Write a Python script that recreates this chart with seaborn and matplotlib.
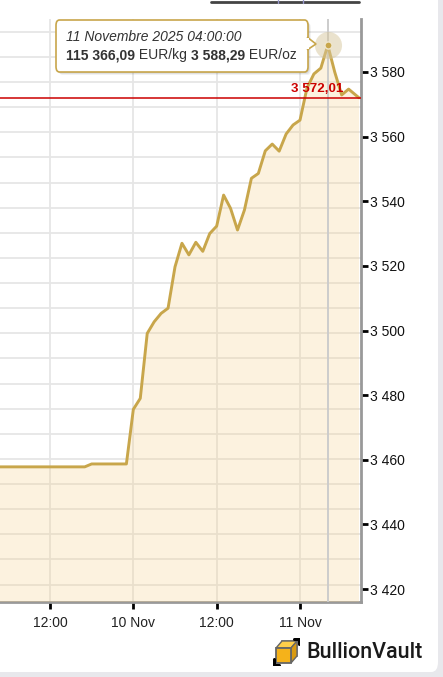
import pandas as pd
import numpy as np
import matplotlib
matplotlib.use("Agg")
import matplotlib.pyplot as plt
import matplotlib.dates as mdates
import matplotlib.ticker as mticker
from matplotlib.patches import FancyBboxPatch, Polygon, Rectangle
from matplotlib.lines import Line2D
import seaborn as sns

# Hourly gold price, EUR/oz
sun_times = pd.date_range("2025-11-09 04:00", "2025-11-09 23:00", freq="h")
sun_prices = [3457.8, 3457.8, 3457.8, 3457.8, 3457.8, 3457.8, 3457.8,
              3457.8, 3457.8, 3457.8, 3457.8, 3457.8, 3457.8, 3457.8,
              3458.7, 3458.7, 3458.7, 3458.7, 3458.7, 3458.7]
mon_times = pd.date_range("2025-11-10 00:00", "2025-11-10 23:00", freq="h")
mon_prices = [3475.6, 3479.0, 3499.1, 3502.7, 3505.3, 3506.9, 3519.7, 3527.0,
              3523.4, 3527.3, 3524.5, 3530.0, 3532.3, 3541.9, 3537.8, 3531.1,
              3537.3, 3547.1, 3548.6, 3555.6, 3557.7, 3555.5, 3560.8, 3563.6]
tue_times = pd.to_datetime(["2025-11-11 00:00", "2025-11-11 01:00", "2025-11-11 02:00",
                            "2025-11-11 03:00", "2025-11-11 04:00", "2025-11-11 05:00",
                            "2025-11-11 06:00", "2025-11-11 07:00", "2025-11-11 08:00",
                            "2025-11-11 08:30"])
tue_prices = [3565.1, 3575.0, 3579.4, 3581.2, 3588.29, 3580.0, 3572.9, 3574.7,
              3572.9, 3572.01]

last_price = 3572.01
hover_time = pd.Timestamp("2025-11-11 04:00")
hover_oz = 3588.29
hover_kg = 115366.09
hover_label = "11 Novembre 2025 04:00:00"
OZ_PER_KG = 32.1507

df = pd.DataFrame({
    "time": list(sun_times) + list(mon_times) + list(tue_times),
    "price": sun_prices + mon_prices + tue_prices,
})

W, H = 443, 677
LINE = "#C8A64B"
sns.set_style("white")
plt.rcParams["font.family"] = ["Liberation Sans", "DejaVu Sans"]

fig = plt.figure(figsize=(W / 100, H / 100), dpi=100)
fig.patch.set_facecolor("#E8E8EC")


def fx(x):
    return x / W


def fy(y):
    return 1 - y / H


def eur(v):
    return f"{v:,.2f}".replace(",", " ").replace(".", ",")


# white card behind the chart
fig.add_artist(FancyBboxPatch((fx(-20), fy(672)), fx(458), 1.1,
                              boxstyle="round,pad=0,rounding_size=0.015",
                              transform=fig.transFigure, facecolor="white",
                              edgecolor="none", zorder=0))

ax = fig.add_axes([0, fy(602), fx(361), fy(19) - fy(602)])
ax.set_facecolor("none")

sns.lineplot(data=df, x="time", y="price", ax=ax, color=LINE, linewidth=2.1, zorder=4)
ax.fill_between(df["time"], df["price"], 3300, color="#F5CD82", alpha=0.25,
                linewidth=0, zorder=3)

ax.set_xlim(pd.Timestamp("2025-11-09 04:48"), pd.Timestamp("2025-11-11 08:47"))
ax.set_ylim(3415.98, 3596.4)

# y axis on the right
ax.yaxis.tick_right()
ax.yaxis.set_major_locator(mticker.MultipleLocator(20))
ax.yaxis.set_major_formatter(mticker.FuncFormatter(
    lambda v, p: f"{int(round(v)):,}".replace(",", " ")))
kg_levels = np.arange(109000, 116500, 250)
ax.yaxis.set_minor_locator(mticker.FixedLocator(kg_levels / OZ_PER_KG))
ax.tick_params(axis="y", which="major", length=5, width=2, color="black",
               labelsize=10, labelcolor="#111111", pad=1.5, right=True, left=False)
ax.tick_params(axis="y", which="minor", length=0)

ax.xaxis.set_major_locator(mdates.HourLocator(byhour=[0, 12]))
ax.xaxis.set_major_formatter(mticker.FuncFormatter(
    lambda v, p: (f"{mdates.num2date(v).day} Nov" if mdates.num2date(v).hour == 0
                  else mdates.num2date(v).strftime("%H:%M"))))
ax.tick_params(axis="x", length=5, width=2, color="black", labelsize=10,
               labelcolor="#222222", pad=5, bottom=True)

ax.grid(False)
ax.grid(axis="y", which="minor", color="#E6E6E6", linewidth=1.3, zorder=1)
ax.grid(axis="x", which="major", color="#E6E6E6", linewidth=1.3, zorder=1)
ax.set_axisbelow(True)
ax.set_xlabel("")
ax.set_ylabel("")

for side in ["top", "left"]:
    ax.spines[side].set_visible(False)
for side in ["right", "bottom"]:
    ax.spines[side].set_color("#999999")
    ax.spines[side].set_linewidth(2)

# crosshair, last price line and label
ax.axvline(hover_time, color="#CCCCCC", linewidth=1.4, zorder=3.5)
ax.axhline(last_price, color="#CC0000", linewidth=1.1, zorder=5)
ax.annotate(eur(last_price), xy=(1, last_price), xycoords=("axes fraction", "data"),
            xytext=(-18, 3), textcoords="offset pixels", ha="right", va="bottom",
            color="#CC0000", fontsize=9.6, fontweight="bold", zorder=6)

# hover point with halo
ax.scatter([hover_time], [hover_oz], s=380, color="#D6C79C", alpha=0.5,
           linewidths=0, zorder=6)
ax.scatter([hover_time], [hover_oz], s=26, color=LINE, edgecolors="#EFE6CC",
           linewidths=1, zorder=7)

# tooltip
for off, a in [(3, 0.05), (2, 0.07), (1, 0.09)]:
    fig.add_artist(FancyBboxPatch((fx(56 + off), fy(72 + off)), fx(252), fy(20) - fy(72),
                                  boxstyle="round,pad=0,rounding_size=0.008",
                                  transform=fig.transFigure, facecolor="black",
                                  alpha=a, edgecolor="none", zorder=8))
fig.add_artist(FancyBboxPatch((fx(56), fy(72)), fx(252), fy(20) - fy(72),
                              boxstyle="round,pad=0,rounding_size=0.008",
                              transform=fig.transFigure, facecolor="white",
                              edgecolor=LINE, linewidth=1.2, zorder=9))
fig.add_artist(Polygon([(fx(307), fy(37)), (fx(316), fy(44)), (fx(307), fy(50))],
                       closed=False, transform=fig.transFigure, facecolor="white",
                       edgecolor=LINE, linewidth=1.2, zorder=10))
fig.add_artist(Rectangle((fx(306), fy(49.3)), fx(2.5), fy(37.7) - fy(49.3),
                         transform=fig.transFigure, facecolor="white",
                         edgecolor="none", zorder=11))
fig.text(fx(66), fy(37), hover_label, style="italic", fontsize=10, color="#333333",
         va="center", ha="left", zorder=12)

fig.canvas.draw()
r = fig.canvas.get_renderer()
x_next = fx(66)
for txt, wt in [(eur(hover_kg), "bold"), (" EUR/kg ", "normal"),
                (eur(hover_oz), "bold"), (" EUR/oz", "normal")]:
    t = fig.text(x_next, fy(55), txt, fontweight=wt, fontsize=10, color="#333333",
                 va="center", ha="left", zorder=12)
    x_next = t.get_window_extent(r).x1 / W

# cut-off range buttons at the very top
fig.add_artist(Line2D([fx(211), fx(359)], [fy(1.5), fy(1.5)], transform=fig.transFigure,
                      color="#444444", linewidth=2, zorder=5))
for xb in [278, 303]:
    fig.add_artist(Line2D([fx(xb), fx(xb)], [fy(0), fy(3)], transform=fig.transFigure,
                          color="#9999CC", linewidth=1, zorder=6))

# BullionVault logo
lax = fig.add_axes([fx(273), fy(666), fx(27), fy(638) - fy(666)])
lax.set_xlim(0, 27)
lax.set_ylim(0, 28)
lax.axis("off")
lax.add_patch(Rectangle((9, 10), 15, 15, facecolor="none", edgecolor="#888888", linewidth=1.3))
lax.add_patch(Polygon([(3, 18), (9, 25), (24, 25), (18, 18)], facecolor="#FFCF4A",
                      edgecolor="#666666", linewidth=1))
lax.add_patch(Polygon([(18, 3), (24, 10), (24, 25), (18, 18)], facecolor="#D99A10",
                      edgecolor="#666666", linewidth=1))
lax.add_patch(Rectangle((3, 3), 15, 15, facecolor="#F5B21A", edgecolor="#666666", linewidth=1.3))
lax.plot([1, 1, 6], [7, 1, 1], color="black", linewidth=2.2)
lax.plot([21, 26, 26], [27, 27, 22], color="black", linewidth=2.2)
fig.text(fx(306), fy(652), "BullionVault", fontsize=15.5, color="#1A1A1A",
         family=["Roboto", "DejaVu Sans"], fontweight="medium", va="center", ha="left")

fig.savefig("out.png", dpi=100)
